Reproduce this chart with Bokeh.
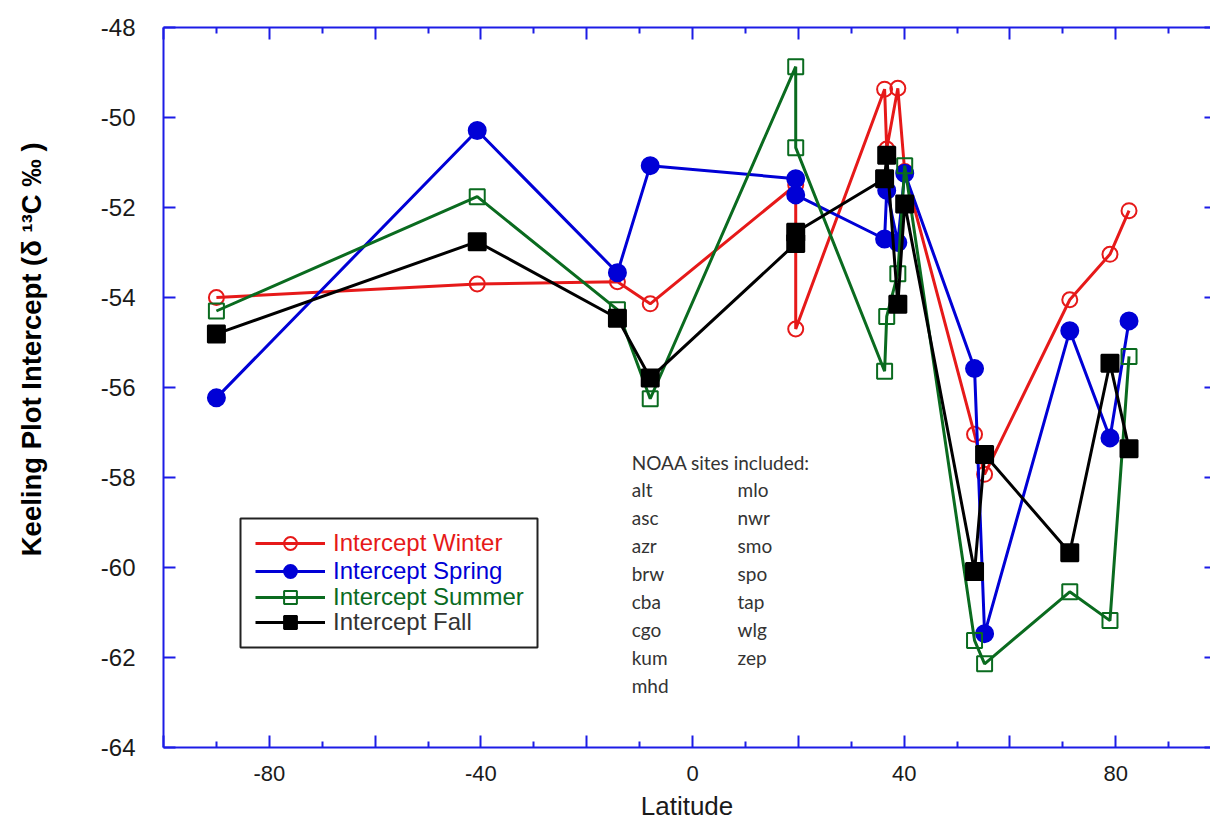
from bokeh.plotting import figure
from bokeh.models import (Range1d, LinearAxis, FixedTicker, Legend, LegendItem,
                          BoxAnnotation, Label, CustomJSTickFormatter)
from bokeh.embed import file_html
from bokeh.resources import INLINE

# ---------------- data ----------------
sites = ["spo", "cgo", "smo", "asc", "mlo", "kum", "wlg", "tap", "azr", "nwr",
         "mhd", "cba", "brw", "zep", "alt"]
latitude = [-90.0, -40.7, -14.2, -8.0, 19.5, 19.5, 36.3, 36.7, 38.8, 40.1,
            53.3, 55.2, 71.3, 78.9, 82.5]
winter = [-54.00, -53.70, -53.65, -54.14, -51.50, -54.70, -49.37, -50.70, -49.35, -51.20,
          -57.04, -57.93, -54.05, -53.04, -52.07]
spring = [-56.23, -50.29, -53.45, -51.07, -51.36, -51.72, -52.70, -51.62, -52.78, -51.24,
          -55.58, -61.47, -54.74, -57.12, -54.52]
summer = [-54.30, -51.76, -54.27, -56.25, -48.87, -50.67, -55.64, -54.42, -53.47, -51.07,
          -61.62, -62.14, -60.54, -61.18, -55.31]
fall = [-54.81, -52.76, -54.46, -55.79, -52.80, -52.55, -51.36, -50.84, -54.15, -51.92,
        -60.09, -57.49, -59.67, -55.46, -57.36]

series_names = ["Intercept Winter", "Intercept Spring", "Intercept Summer", "Intercept Fall"]

x_major_ticks = [-100, -80, -60, -40, -20, 0, 20, 40, 60, 80, 100]
x_minor_ticks = [-90, -70, -50, -30, -10, 10, 30, 50, 70, 90]
x_tick_labels = {-80: "-80", -40: "-40", 0: "0", 40: "40", 80: "80"}
y_ticks = [-64, -62, -60, -58, -56, -54, -52, -50, -48]
y_tick_labels = ["-64", "-62", "-60", "-58", "-56", "-54", "-52", "-50", "-48"]

notes_title = "NOAA sites included:"
sites_col1 = ["alt", "asc", "azr", "brw", "cba", "cgo", "kum", "mhd"]
sites_col2 = ["mlo", "nwr", "smo", "spo", "tap", "wlg", "zep"]

# ---------------- styling ----------------
AXIS_BLUE = "#1c1ce6"
RED = "#e61919"
BLUE = "#0000d6"
GREEN = "#0a6b1f"
BLACK = "#000000"
FONT = "Liberation Sans"

p = figure(width=1210, height=824,
           x_range=Range1d(-100, 97.9), y_range=Range1d(-64, -48),
           output_backend="svg", toolbar_location=None,
           min_border_left=163, min_border_right=0,
           min_border_top=27, min_border_bottom=77,
           x_axis_location=None, y_axis_location=None)
p.xgrid.visible = False
p.ygrid.visible = False
p.outline_line_color = None
p.background_fill_color = "white"
p.border_fill_color = "white"

x_ticker = FixedTicker(ticks=x_major_ticks, minor_ticks=x_minor_ticks)
y_ticker = FixedTicker(ticks=y_ticks, minor_ticks=[])
blank = CustomJSTickFormatter(code="return ''")


def style_axis(ax, tick_in, minor_in):
    ax.axis_line_color = AXIS_BLUE
    ax.axis_line_width = 2
    ax.major_tick_line_color = AXIS_BLUE
    ax.major_tick_line_width = 2
    ax.minor_tick_line_color = AXIS_BLUE
    ax.minor_tick_line_width = 2
    ax.major_tick_in = tick_in
    ax.major_tick_out = 0
    ax.minor_tick_in = minor_in
    ax.minor_tick_out = 0


# bottom axis
xb = LinearAxis(ticker=x_ticker, axis_label="Latitude")
style_axis(xb, 12, 6)
xb.major_label_overrides = {t: x_tick_labels.get(t, "") for t in x_major_ticks}
xb.major_label_text_font = FONT
xb.major_label_text_font_size = "22px"
xb.major_label_text_color = "#1a1a1a"
xb.major_label_standoff = 18
xb.axis_label_text_font = FONT
xb.axis_label_text_font_size = "26px"
xb.axis_label_text_font_style = "normal"
xb.axis_label_text_color = "#1a1a1a"
xb.axis_label_standoff = 7
p.add_layout(xb, "below")

# top axis (ticks only)
xt = LinearAxis(ticker=x_ticker, formatter=blank)
style_axis(xt, 12, 6)
xt.major_label_standoff = 0
xt.major_label_text_font_size = "0px"
p.add_layout(xt, "above")

# left axis
yl = LinearAxis(ticker=y_ticker,
                axis_label="\u00a0" * 10 + "Keeling Plot Intercept (\u03b4 \u00b9\u00b3C \u2030 )")
style_axis(yl, 12, 0)
yl.major_label_overrides = dict(zip(y_ticks, y_tick_labels))
yl.major_label_text_font = FONT
yl.major_label_text_font_size = "24px"
yl.major_label_text_color = "#1a1a1a"
yl.major_label_standoff = 28
yl.axis_label_text_font = FONT
yl.axis_label_text_font_size = "27.5px"
yl.axis_label_text_font_style = "bold"
yl.axis_label_text_color = "#000000"
yl.axis_label_standoff = 51
p.add_layout(yl, "left")

# right axis (ticks only)
yr = LinearAxis(ticker=y_ticker, formatter=blank)
style_axis(yr, 6, 0)
yr.axis_line_color = None
yr.major_label_standoff = 0
yr.major_label_text_font_size = "0px"
p.add_layout(yr, "right")

# ---------------- series ----------------
specs = [
    (winter, RED, "circle", 15, None),
    (spring, BLUE, "circle", 17, BLUE),
    (summer, GREEN, "square", 15, None),
    (fall, BLACK, "square", 17, BLACK),
]
items = []
for (vals, color, marker, size, fill), name in zip(specs, series_names):
    rl = p.line(latitude, vals, line_color=color, line_width=3)
    rs = p.scatter(latitude, vals, marker=marker, size=size,
                   line_color=color, line_width=2,
                   fill_color=fill, fill_alpha=1 if fill else 0)
    items.append((name, color, [rl, rs]))

# legend frame
box = BoxAnnotation(left=77, right=374, top=229, bottom=100,
                    left_units="screen", right_units="screen",
                    top_units="screen", bottom_units="screen",
                    fill_color="white", fill_alpha=1,
                    line_color="#222222", line_width=2, line_alpha=1)
p.add_layout(box)

legend_y = [188, 160, 134, 109]
text_colors = [RED, BLUE, GREEN, "#333333"]
for (name, color, rends), ly, tc in zip(items, legend_y, text_colors):
    lg = Legend(items=[LegendItem(label=name, renderers=rends)],
                location=(92, ly), orientation="vertical",
                border_line_color=None, background_fill_alpha=0,
                padding=0, margin=0, spacing=0,
                glyph_width=70, glyph_height=32, label_height=32,
                label_standoff=8,
                label_text_font=FONT, label_text_font_size="24px",
                label_text_color=tc, label_text_baseline="middle")
    p.add_layout(lg)

# ---------------- notes ----------------
note_font = "Lato"
note_size = "19px"
note_color = "#333333"
col1_x, col2_x = -11.5, 8.5
title_y = -57.67
row0_y = -58.27
row_step = 28 / 45.0

p.add_layout(Label(x=col1_x, y=title_y, text=notes_title, text_font=note_font,
                   text_font_size=note_size, text_color=note_color,
                   text_baseline="middle", text_align="left"))
for i, s in enumerate(sites_col1):
    p.add_layout(Label(x=col1_x, y=row0_y - i * row_step, text=s, text_font=note_font,
                       text_font_size=note_size, text_color=note_color,
                       text_baseline="middle", text_align="left"))
for i, s in enumerate(sites_col2):
    p.add_layout(Label(x=col2_x, y=row0_y - i * row_step, text=s, text_font=note_font,
                       text_font_size=note_size, text_color=note_color,
                       text_baseline="middle", text_align="left"))

open("out.html", "w").write(file_html(p, INLINE))
